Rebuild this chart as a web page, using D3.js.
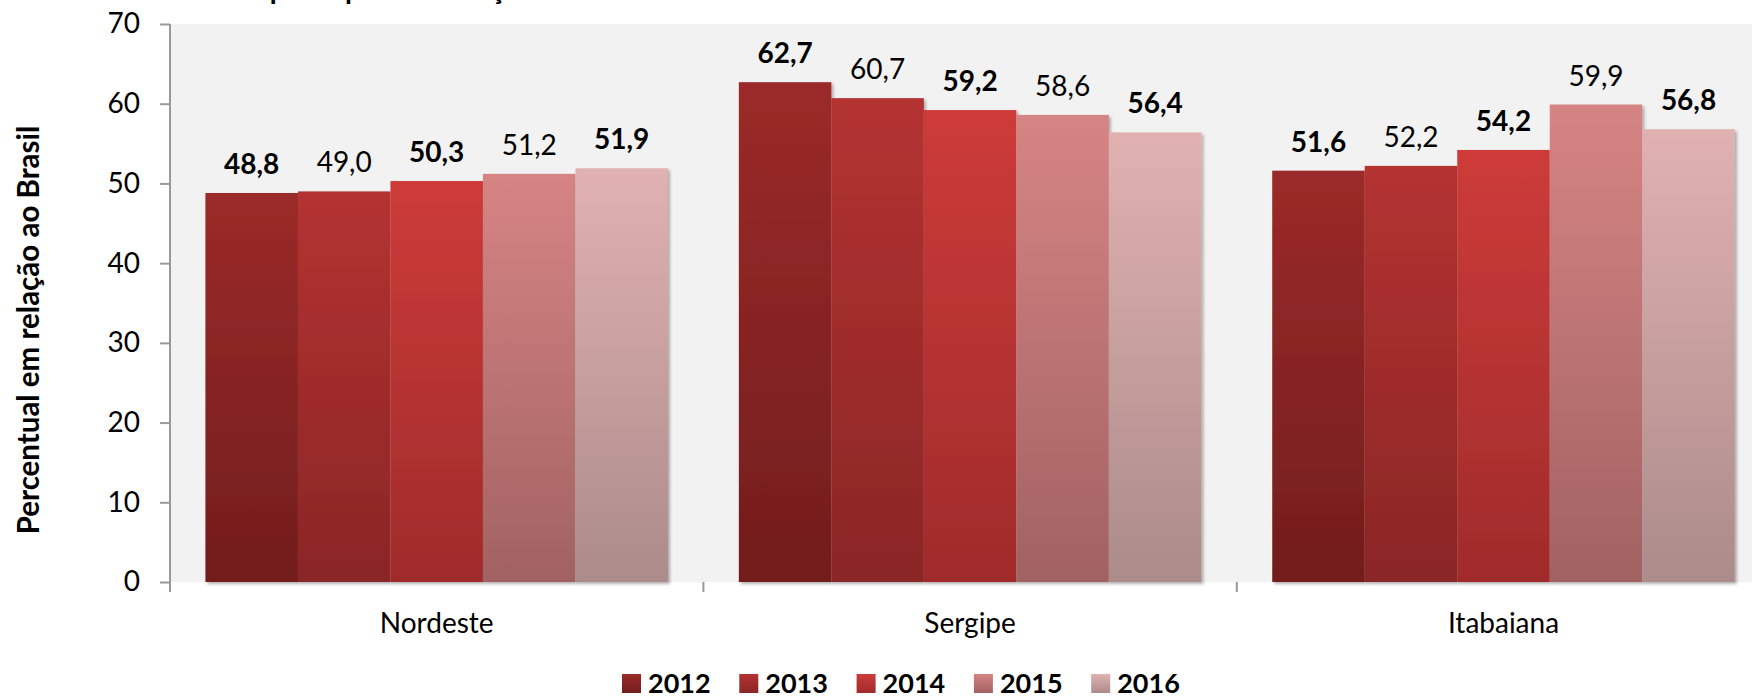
<!DOCTYPE html>
<html>
<head>
<meta charset="utf-8">
<script src="https://cdn.jsdelivr.net/npm/d3@7"></script>
<style>
  body { margin: 0; background: #fff; overflow: hidden; }
  svg { display: block; font-family: Lato, "Open Sans", sans-serif; }
</style>
</head>
<body>
<svg id="chart" width="1752" height="697"></svg>
<script>
const categories = ["Nordeste", "Sergipe", "Itabaiana"];
const years = ["2012", "2013", "2014", "2015", "2016"];
const values_2012 = [48.8, 62.7, 51.6];
const values_2013 = [49.0, 60.7, 52.2];
const values_2014 = [50.3, 59.2, 54.2];
const values_2015 = [51.2, 58.6, 59.9];
const values_2016 = [51.9, 56.4, 56.8];
const y_ticks = [0, 10, 20, 30, 40, 50, 60, 70];
const bold_years = ["2012", "2014", "2016"];

// top / bottom colours of each year's gradient
const colors_top = ["#9b2a29", "#b43231", "#cd3b39", "#d68484", "#e1b1b1"];
const colors_bot = ["#721d1d", "#8a2626", "#a02b2b", "#a26262", "#ac8b8b"];

const series = [values_2012, values_2013, values_2014, values_2015, values_2016];
const data = [];
categories.forEach(function(c, ci) {
	years.forEach(function(yr, yi) {
		data.push({cat: c, year: yr, yi: yi, value: series[yi][ci]});
	});
});

const $svg = d3.select("#chart");
const W = 1752, H = 697;
const plot_left = 170, plot_top = 24, plot_bottom = 582;
const font = "Lato, 'Open Sans', sans-serif";

const x0 = d3.scaleBand()
	.domain(categories)
	.range([plot_left, plot_left + 3 * 533.4])
	.paddingInner(0)
	.paddingOuter(0);

const x1 = d3.scaleBand()
	.domain(years)
	.range([0, x0.bandwidth()])
	.paddingInner(0)
	.paddingOuter(0.383);

const y = d3.scaleLinear()
	.domain([0, 70])
	.range([plot_bottom, plot_top]);

const fmt = function(v) { return v.toFixed(1).replace(".", ","); };

// defs: gradients + shadow
const defs = $svg.append("defs");
years.forEach(function(yr, i) {
	const g = defs.append("linearGradient")
		.attr("id", "grad" + yr)
		.attr("x1", 0).attr("y1", 0).attr("x2", 0).attr("y2", 1);
	g.append("stop").attr("offset", "0%").attr("stop-color", colors_top[i]);
	g.append("stop").attr("offset", "100%").attr("stop-color", colors_bot[i]);
});
const shadow = defs.append("filter")
	.attr("id", "shadow")
	.attr("x", "-5%").attr("y", "-5%").attr("width", "120%").attr("height", "120%");
shadow.append("feDropShadow")
	.attr("dx", 2).attr("dy", 2)
	.attr("stdDeviation", 1.6)
	.attr("flood-color", "#000")
	.attr("flood-opacity", 0.3);

// title (cut off at the top of the picture, only descenders show)
const $title = $svg.append("text")
	.attr("y", -1)
	.style("font-family", font)
	.style("font-size", "28px")
	.style("font-weight", "bold")
	.attr("fill", "#000");
$title.text("PIB ");
const prefix_w = $title.node().getComputedTextLength();
$title.attr("x", 263 - prefix_w).text("PIB per capita em relação ao Brasil");

// plot background
$svg.append("rect")
	.attr("x", plot_left)
	.attr("y", plot_top)
	.attr("width", W - plot_left)
	.attr("height", plot_bottom - plot_top)
	.attr("fill", "#f2f2f2");

// bars
const $bars = $svg.append("g");
$bars.selectAll("rect")
	.data(data)
	.enter()
	.append("rect")
	.attr("x", function(d) { return x0(d.cat) + x1(d.year); })
	.attr("y", function(d) { return y(d.value); })
	.attr("width", x1.bandwidth())
	.attr("height", function(d) { return y(0) - y(d.value); })
	.attr("fill", function(d) { return "url(#grad" + d.year + ")"; })
	.attr("filter", "url(#shadow)");

// data labels
$svg.append("g").selectAll("text")
	.data(data)
	.enter()
	.append("text")
	.attr("x", function(d) { return x0(d.cat) + x1(d.year) + x1.bandwidth() / 2; })
	.attr("y", function(d) { return y(d.value) - 19; })
	.attr("text-anchor", "middle")
	.style("font-size", "28px")
	.style("font-weight", function(d) { return bold_years.indexOf(d.year) >= 0 ? "bold" : "normal"; })
	.attr("fill", "#000")
	.text(function(d) { return fmt(d.value); });

// y axis
const yAxis = d3.axisLeft(y)
	.tickValues(y_ticks)
	.tickSize(10)
	.tickPadding(20)
	.tickFormat(d3.format("d"));
const $yax = $svg.append("g")
	.attr("transform", "translate(" + plot_left + ",0)")
	.call(yAxis);
$yax.attr("font-family", null).attr("font-size", null);
$yax.select(".domain").remove();
$yax.append("line")
	.attr("x1", 0).attr("x2", 0)
	.attr("y1", plot_top).attr("y2", plot_bottom + 10)
	.attr("stroke", "#999").attr("stroke-width", 2);
$yax.selectAll(".tick line").attr("stroke", "#999").attr("stroke-width", 2);
$yax.selectAll(".tick text")
	.style("font-family", font)
	.style("font-size", "28px")
	.attr("fill", "#000");

// x axis
const $xax = $svg.append("g");
$xax.append("line")
	.attr("x1", plot_left - 10).attr("x2", W)
	.attr("y1", plot_bottom).attr("y2", plot_bottom)
	.attr("stroke", "#999").attr("stroke-width", 2)
	.attr("filter", "url(#shadow)");
$xax.selectAll(".xtick")
	.data(categories)
	.enter()
	.append("line")
	.attr("x1", function(d) { return x0(d); })
	.attr("x2", function(d) { return x0(d); })
	.attr("y1", plot_bottom).attr("y2", plot_bottom + 10)
	.attr("stroke", "#999").attr("stroke-width", 2);
$xax.selectAll(".xlabel")
	.data(categories)
	.enter()
	.append("text")
	.attr("x", function(d) { return x0(d) + x0.bandwidth() / 2; })
	.attr("y", 633)
	.attr("text-anchor", "middle")
	.style("font-size", "28px")
	.attr("fill", "#000")
	.text(function(d) { return d; });

// y axis title
$svg.append("text")
	.attr("transform", "translate(39,330) rotate(-90)")
	.attr("text-anchor", "middle")
	.style("font-family", font)
	.style("font-size", "29.5px")
	.style("font-weight", "bold")
	.attr("fill", "#000")
	.text("Percentual em relação ao Brasil");

// legend
const $legend = $svg.append("g");
const leg = $legend.selectAll("g")
	.data(years)
	.enter()
	.append("g")
	.attr("transform", function(d, i) { return "translate(" + (622 + i * 117.3) + ",674)"; });
leg.append("rect")
	.attr("width", 19).attr("height", 19)
	.attr("fill", function(d) { return "url(#grad" + d + ")"; });
leg.append("text")
	.attr("x", 26).attr("y", 19)
	.style("font-size", "27px")
	.style("font-weight", "bold")
	.attr("fill", "#000")
	.text(function(d) { return d; });
</script>
</body>
</html>
